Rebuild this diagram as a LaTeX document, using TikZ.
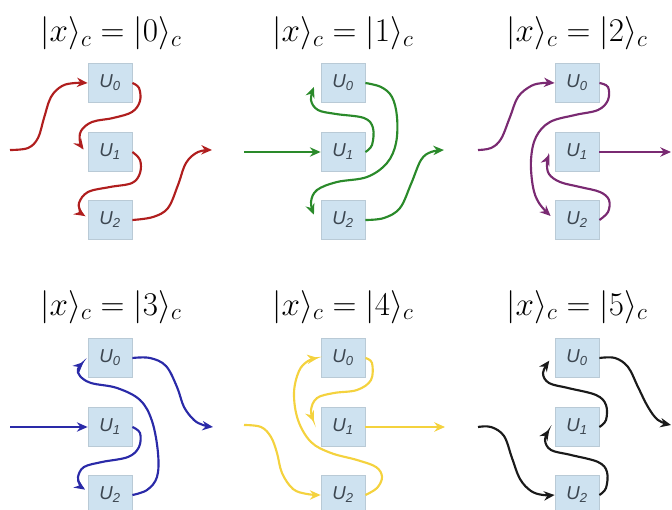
\documentclass[tikz,border=0pt]{standalone}
\usepackage{fontspec}
\setsansfont{Liberation Sans}
\usetikzlibrary{arrows.meta}
\definecolor{cred}{HTML}{B01E1E}
\definecolor{cgreen}{HTML}{2A8A2A}
\definecolor{cpurple}{HTML}{7A2A72}
\definecolor{cblue}{HTML}{2A2AA8}
\definecolor{cyellow}{HTML}{F4D23E}
\definecolor{cblack}{HTML}{1A1A1A}
\definecolor{boxfill}{HTML}{CEE2F0}
\definecolor{boxline}{HTML}{B9CAD6}
\definecolor{utext}{HTML}{3C4650}
\newcommand\ulab[1]{U\textsubscript{#1}}
\begin{document}
\begin{tikzpicture}[x=0.75pt,y=-0.75pt,
  ub/.style={draw=boxline,line width=0.6pt,fill=boxfill,minimum width=33pt,minimum height=29.5pt,inner sep=0pt,
    font=\sffamily\itshape\fontsize{14}{16}\selectfont,text=utext},
  ttl/.style={font=\fontsize{24}{28}\selectfont,anchor=base},
  lk/.style={line width=1.6pt,-{Stealth[length=8pt,width=7pt]}},
  sm/.style={smooth,tension=0.6}]
\useasboundingbox (0,0) rectangle (672,510);
\clip (0,0) rectangle (672,510);
% titles
\node[ttl] (t0) at (111,42) {$|x\rangle_c = |0\rangle_c$};
\node[ttl] (t1) at (343,42) {$|x\rangle_c = |1\rangle_c$};
\node[ttl] (t2) at (577,42) {$|x\rangle_c = |2\rangle_c$};
\node[ttl] (t3) at (111,315) {$|x\rangle_c = |3\rangle_c$};
\node[ttl] (t4) at (343,315) {$|x\rangle_c = |4\rangle_c$};
\node[ttl] (t5) at (577,315) {$|x\rangle_c = |5\rangle_c$};
% boxes
\foreach \p/\x/\y in {a/110/152,b/343/152,c/577/152,d/110/427,e/343/427,f/577/427}{
  \node[ub] (\p0) at (\x,\y-69) {\ulab{0}};
  \node[ub] (\p1) at (\x,\y) {\ulab{1}};
  \node[ub] (\p2) at (\x,\y+68) {\ulab{2}};
}
% free ends
\coordinate (ain) at (10,150);  \coordinate (aout) at (212,150);
\coordinate (bin) at (244,152); \coordinate (bout) at (444,150);
\coordinate (cin) at (478,150); \coordinate (cout) at (671,152);
\coordinate (din) at (10,427);  \coordinate (dout) at (213,427);
\coordinate (ein) at (244,425); \coordinate (eout) at (445,427);
\coordinate (fin) at (478,427); \coordinate (fout) at (671,425);
% panel 1 (red)
\draw[lk,cred] plot[sm] coordinates {(ain) (28,148) (38,138) (44,118) (51,97) (62,86) (75,83) (a0.west)};
\draw[lk,cred] plot[sm] coordinates {(a0.east) (139,88) (140,101) (132,112) (113,118) (92,122) (81,131) (80,142) ([shift={(-3pt,2pt)}]a1.west)};
\draw[lk,cred] plot[sm] coordinates {(a1.east) (140,160) (140,173) (132,183) (110,187) (88,192) (79,203) (81,212) ([shift={(-2pt,3pt)}]a2.west)};
\draw[lk,cred] plot[sm] coordinates {(a2.east) (153,217) (168,208) (178,185) (186,163) (198,152) (aout)};
% panel 2 (green)
\draw[lk,cgreen] (bin) -- (b1.west);
\draw[lk,cgreen] plot[sm] coordinates {(b1.east) (372,145) (373,128) (364,118) (336,114) (318,110) (311,100) ([shift={(-5pt,-3pt)}]b0.west)};
\draw[lk,cgreen] plot[sm] coordinates {(b0.east) (381,87) (392,97) (397,117) (396,143) (387,163) (367,177) (337,182) (317,190) (311,202) ([shift={(-5pt,4pt)}]b2.west)};
\draw[lk,cgreen] plot[sm] coordinates {(b2.east) (384,218) (400,208) (411,184) (421,160) (431,152) (bout)};
% panel 3 (purple)
\draw[lk,cpurple] plot[sm] coordinates {(cin) (491,148) (501,139) (510,117) (518,97) (531,86) (543,83) (c0.west)};
\draw[lk,cpurple] plot[sm] coordinates {(c0.east) (608,87) (608,100) (598,110) (575,115) (550,122) (536,137) (531,160) (533,187) (539,203) ([shift={(-3pt,3pt)}]c2.west)};
\draw[lk,cpurple] plot[sm] coordinates {(c2.east) (608,212) (609,200) (600,192) (580,187) (560,182) (549,174) (547,163) ([shift={(-4pt,-2pt)}]c1.west)};
\draw[lk,cpurple] (c1.east) -- (cout);
% panel 4 (blue)
\draw[lk,cblue] (din) -- (d1.west);
\draw[lk,cblue] plot[sm] coordinates {(d1.east) (140,433) (139,447) (128,457) (102,462) (84,467) (78,477) (80,485) ([shift={(-2pt,4pt)}]d2.west)};
\draw[lk,cblue] plot[sm] coordinates {(d2.east) (147,490) (157,477) (158,453) (152,421) (140,400) (117,388) (91,383) (80,376) (78,369) ([shift={(-3pt,-3pt)}]d0.west)};
\draw[lk,cblue] plot[sm] coordinates {(d0.east) (150,358) (166,366) (177,387) (184,407) (194,420) (203,425) (dout)};
% panel 5 (yellow)
\draw[lk,cyellow] plot[sm] coordinates {(ein) (261,427) (271,437) (277,453) (282,473) (293,489) (307,494) (e2.west)};
\draw[lk,cyellow] plot[sm] coordinates {(e2.east) (377,488) (382,477) (376,467) (357,460) (331,453) (311,442) (298,420) (294,393) (299,371) (308,361) ([shift={(-2pt,0pt)}]e0.west)};
\draw[lk,cyellow] plot[sm] coordinates {(e0.east) (372,363) (371,380) (357,390) (334,393) (317,398) (311,410) ([shift={(-5pt,4pt)}]e1.west)};
\draw[lk,cyellow] (e1.east) -- (eout);
% panel 6 (black)
\draw[lk,cblack] plot[sm] coordinates {(fin) (491,427) (504,436) (512,458) (520,479) (531,491) (543,495) (f2.west)};
\draw[lk,cblack] plot[sm] coordinates {(f2.east) (606,488) (607,472) (598,462) (571,455) (551,450) (545,440) ([shift={(-4pt,-2pt)}]f1.west)};
\draw[lk,cblack] plot[sm] coordinates {(f1.east) (606,420) (606,405) (596,395) (568,388) (549,383) (543,373) ([shift={(-4pt,-2pt)}]f0.west)};
\draw[lk,cblack] plot[sm] coordinates {(f0.east) (615,358) (628,367) (638,387) (648,407) (658,420) (fout)};
\end{tikzpicture}
\end{document}
